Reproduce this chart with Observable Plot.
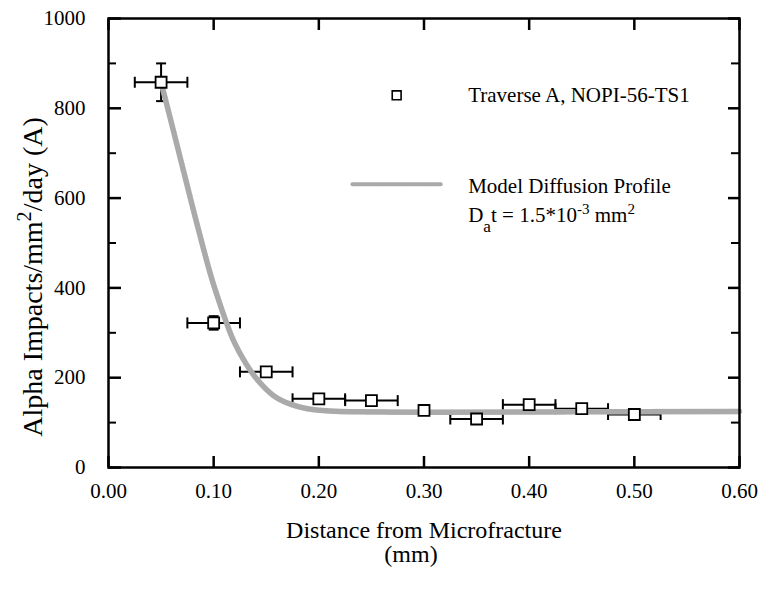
<!DOCTYPE html>
<html><head><meta charset="utf-8">
<script src="https://cdn.jsdelivr.net/npm/d3@7"></script>
<script src="https://cdn.jsdelivr.net/npm/@observablehq/plot@0.6"></script>
<style>body{margin:0;background:#fff}</style>
</head><body><div id="chart"></div>
<script>
// Measured points: Traverse A, NOPI-56-TS1
const distance = [0.05, 0.10, 0.15, 0.20, 0.25, 0.30, 0.35, 0.40, 0.45, 0.50];
const impacts  = [858, 322, 213, 153, 149, 127, 108, 140, 131, 118];
const distErr  = [0.025, 0.025, 0.025, 0.025, 0.025, 0, 0.025, 0.025, 0.025, 0.025];
const impactErr = [42, 15, 0, 0, 0, 0, 0, 0, 0, 0];

// Model diffusion profile
const modelX = [0.050, 0.055, 0.060, 0.070, 0.080, 0.090, 0.097, 0.103, 0.111, 0.119, 0.130, 0.141, 0.157, 0.173, 0.189, 0.210, 0.240, 0.300, 0.450, 0.600];
const modelY = [858, 812, 766, 673, 580, 490, 430, 385, 330, 282, 234, 197, 160, 141, 131, 126, 124, 123, 124, 125];

// Axis ticks
const xTicks = [0, 0.1, 0.2, 0.3, 0.4, 0.5, 0.6];
const yMajor = [0, 200, 400, 600, 800, 1000];
const yMinor = [100, 300, 500, 700, 900];

// Labels
const xTitle = "Distance from Microfracture";
const xUnit = "(mm)";
const yTitle = "Alpha Impacts/mm2/day (A)";
const legendPointLabel = "Traverse A, NOPI-56-TS1";
const legendLineLabel = "Model Diffusion Profile";
const legendParamLabel = "Dat = 1.5*10-3 mm2";

// Legend anchor positions (in data units)
const legendPoint = {x: 0.274, y: 829};
const legendLineX = [0.232, 0.316];
const legendLineY = 631;
const legendTextX = 0.342;
const legendTextY = [829, 627, 562];

const points = distance.map((x, i) => ({x, y: impacts[i], xe: distErr[i], ye: impactErr[i]}));
const model = modelX.map((x, i) => ({x, y: modelY[i]}));

const vbar = {draw(ctx, size) { const h = Math.sqrt(size / Math.PI); ctx.moveTo(0, -h); ctx.lineTo(0, h); }};
const hbar = {draw(ctx, size) { const h = Math.sqrt(size / Math.PI); ctx.moveTo(-h, 0); ctx.lineTo(h, 0); }};

const withX = points.filter(d => d.xe > 0);
const withY = points.filter(d => d.ye > 0);
const curveColor = "#c4c4c4";
const curveDots = "#7a7a7a";

const chart = Plot.plot({
  width: 760,
  height: 596,
  marginLeft: 108,
  marginRight: 21,
  marginTop: 18,
  marginBottom: 129,
  style: {fontFamily: "'Liberation Serif', 'Times New Roman', serif", fontSize: "21px", background: "white", color: "black"},
  x: {domain: [0, 0.6]},
  y: {domain: [0, 1000]},
  marks: [
    // error bars
    Plot.ruleY(withX, {y: "y", x1: d => d.x - d.xe, x2: d => d.x + d.xe, stroke: "black", strokeWidth: 2}),
    Plot.dot(withX, {x: d => d.x - d.xe, y: "y", symbol: vbar, r: 5.5, stroke: "black", fill: "none", strokeWidth: 2}),
    Plot.dot(withX, {x: d => d.x + d.xe, y: "y", symbol: vbar, r: 5.5, stroke: "black", fill: "none", strokeWidth: 2}),
    Plot.ruleX(withY, {x: "x", y1: d => d.y - d.ye, y2: d => d.y + d.ye, stroke: "black", strokeWidth: 2}),
    Plot.dot(withY, {x: "x", y: d => d.y - d.ye, symbol: hbar, r: 5, stroke: "black", fill: "none", strokeWidth: 2}),
    Plot.dot(withY, {x: "x", y: d => d.y + d.ye, symbol: hbar, r: 5, stroke: "black", fill: "none", strokeWidth: 2}),
    // model curve
    Plot.line(model, {x: "x", y: "y", stroke: curveColor, strokeWidth: 5.5, curve: "catmull-rom"}),
    Plot.line(model, {x: "x", y: "y", stroke: curveDots, strokeWidth: 5.5, strokeDasharray: "1 2", strokeOpacity: 0.35, curve: "catmull-rom"}),
    // squares
    Plot.dot(points, {x: "x", y: "y", symbol: "square", r: 6.2, fill: "white", stroke: "black", strokeWidth: 1.8}),
    // frame and axes
    Plot.frame({stroke: "black", strokeWidth: 2.5}),
    Plot.axisY({anchor: "left", ticks: yMajor, tickSize: -13, tickPadding: 36, tickFormat: d => String(d), label: null, strokeWidth: 2.5}),
    Plot.axisY({anchor: "left", ticks: yMinor, tickSize: -8, tickFormat: () => "", label: null, strokeWidth: 2}),
    Plot.axisY({anchor: "right", ticks: yMajor, tickSize: -12, tickFormat: () => "", label: null, strokeWidth: 2.5}),
    Plot.axisY({anchor: "right", ticks: yMinor, tickSize: -9, tickFormat: () => "", label: null, strokeWidth: 2}),
    Plot.axisX({anchor: "bottom", ticks: xTicks, tickSize: -11, tickPadding: 27, tickFormat: d3.format(".2f"), label: null, strokeWidth: 2.5}),
    Plot.axisX({anchor: "top", ticks: xTicks, tickSize: -11, tickFormat: () => "", label: null, strokeWidth: 2.5}),
    // axis titles
    Plot.text([xTitle], {frameAnchor: "bottom", text: d => d, dy: 63, fontSize: 24, lineAnchor: "middle"}),
    Plot.text([xUnit], {frameAnchor: "bottom", text: d => d, dy: 87, dx: -13, fontSize: 24, lineAnchor: "middle"}),
    Plot.text([yTitle], {frameAnchor: "left", text: d => d, rotate: -90, dx: -75, dy: 34, fontSize: 28, textAnchor: "middle", lineAnchor: "middle"}),
    // legend
    Plot.dot([legendPoint], {x: "x", y: "y", symbol: "square", r: 5, fill: "white", stroke: "black", strokeWidth: 1.6}),
    Plot.line(legendLineX.map(x => ({x, y: legendLineY})), {x: "x", y: "y", stroke: curveColor, strokeWidth: 4}),
    Plot.line(legendLineX.map(x => ({x, y: legendLineY})), {x: "x", y: "y", stroke: curveDots, strokeWidth: 4, strokeDasharray: "1 2", strokeOpacity: 0.35}),
    Plot.text([legendPointLabel, legendLineLabel, legendParamLabel], {x: legendTextX, y: (d, i) => legendTextY[i], text: d => d, textAnchor: "start", lineAnchor: "middle", fontSize: 21})
  ]
});

// rich text: superscripts / subscripts
function richify(svg, plain, parts) {
  d3.select(svg).selectAll("text").filter(function() { return this.textContent === plain && this.childElementCount === 0; }).each(function() {
    const t = d3.select(this);
    t.text(null);
    for (const [s, kind] of parts) {
      const ts = t.append("tspan").text(s);
      if (kind === "sup") ts.attr("baseline-shift", "super").attr("font-size", "0.72em");
      if (kind === "sub") ts.attr("baseline-shift", "sub").attr("font-size", "0.82em");
    }
  });
}
richify(chart, yTitle, [["Alpha Impacts/mm"], ["2", "sup"], ["/day (A)"]]);
richify(chart, legendParamLabel, [["D"], ["a", "sub"], ["t = 1.5*10"], ["-3", "sup"], [" mm"], ["2", "sup"]]);

document.getElementById("chart").appendChild(chart);
</script>
</body></html>
